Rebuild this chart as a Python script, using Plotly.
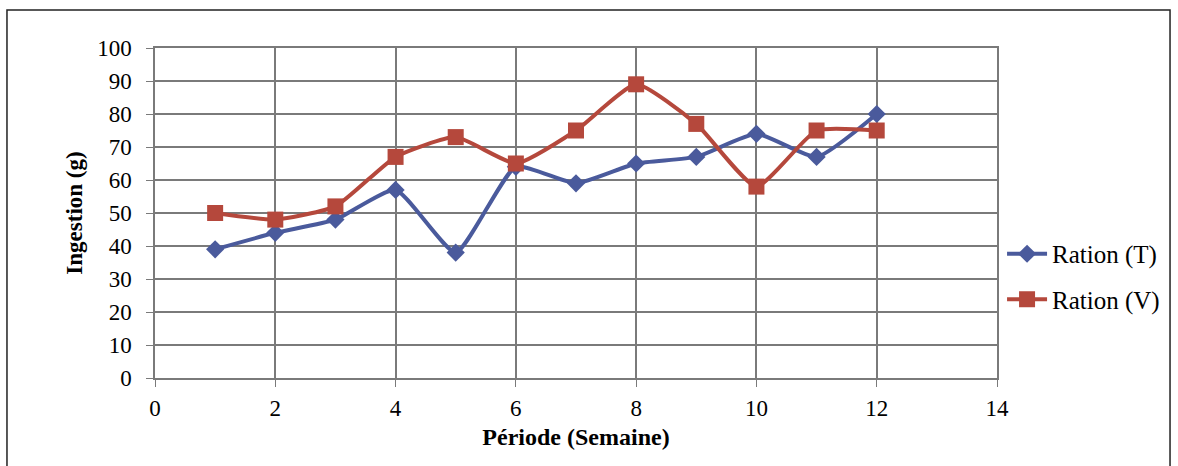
import plotly.graph_objects as go

semaines = [1, 2, 3, 4, 5, 6, 7, 8, 9, 10, 11, 12]
ration_t = [39, 44, 48, 57, 38, 64, 59, 65, 67, 74, 67, 80]
ration_v = [50, 48, 52, 67, 73, 65, 75, 89, 77, 58, 75, 75]
x_ticks = [0, 2, 4, 6, 8, 10, 12, 14]
y_ticks = [0, 10, 20, 30, 40, 50, 60, 70, 80, 90, 100]

FONT = "Liberation Serif"

fig = go.Figure()
fig.add_trace(go.Scatter(
    x=semaines, y=ration_t, name="Ration (T)", mode="lines+markers",
    legendgroup="t",
    line=dict(color="#4a5a9c", width=4, shape="spline", smoothing=0.5),
    marker=dict(symbol="diamond", size=14, color="#4a5a9c"),
))
fig.add_trace(go.Scatter(
    x=semaines, y=ration_v, name="Ration (V)", mode="lines+markers",
    legendgroup="v",
    line=dict(color="#b5483c", width=4, shape="spline", smoothing=0.5),
    marker=dict(symbol="square", size=16, color="#b5483c"),
))

grid = "#7a7a7a"
fig.update_layout(
    width=1178, height=466,
    margin=dict(l=155, r=181, t=48, b=88),
    paper_bgcolor="white", plot_bgcolor="white",
    font=dict(family=FONT, size=23, color="black"),
    xaxis=dict(range=[0, 14], tickvals=x_ticks, showgrid=True, gridcolor=grid,
               gridwidth=1.5, zeroline=False, showline=True, linecolor=grid,
               linewidth=1.5, mirror=True, ticks="outside", ticklen=7,
               tickcolor=grid, tickfont=dict(size=23), ticklabelstandoff=2,
               title=dict(text="<b>Période (Semaine)</b>", font=dict(size=24), standoff=8)),
    yaxis=dict(range=[0, 100], tickvals=y_ticks, showgrid=True, gridcolor=grid,
               gridwidth=1.5, zeroline=False, showline=True, linecolor=grid,
               linewidth=1.5, mirror=True, ticks="outside", ticklen=7,
               tickcolor=grid, tickfont=dict(size=23), ticklabelstandoff=10,
               title=dict(text="<b>Ingestion (g)</b>", font=dict(size=23), standoff=8)),
    legend=dict(x=1.006, y=0.3076, xanchor="left", yanchor="middle",
                bgcolor="rgba(0,0,0,0)", font=dict(size=25),
                itemwidth=40, tracegroupgap=10),
    showlegend=True,
)

fig.add_shape(type="rect", xref="paper", yref="paper",
              x0=-0.1758, x1=1.2055, y0=-0.35, y1=1.115,
              line=dict(color="#222", width=1.5), layer="below")

fig.write_html("out.html")
